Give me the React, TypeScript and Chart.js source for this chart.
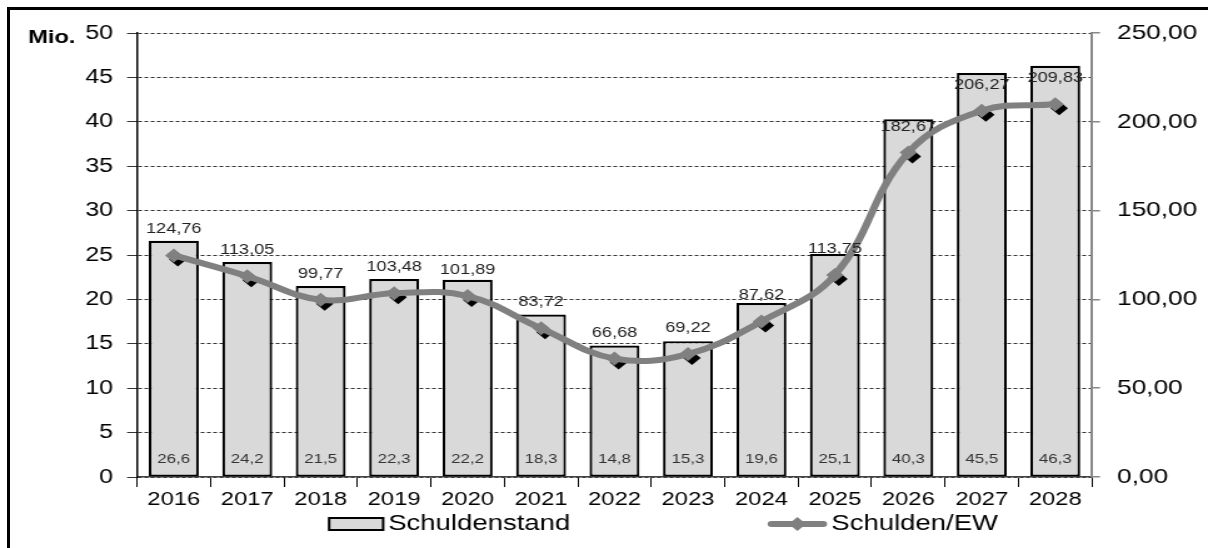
import React, { useEffect, useRef } from 'react';
import { Chart, registerables } from 'chart.js';

Chart.register(...registerables);

const years = ['2016', '2017', '2018', '2019', '2020', '2021', '2022', '2023', '2024', '2025', '2026', '2027', '2028'];
const schuldenstand = [26.6, 24.2, 21.5, 22.3, 22.2, 18.3, 14.8, 15.3, 19.6, 25.1, 40.3, 45.5, 46.3];
const schuldenProEW = [124.76, 113.05, 99.77, 103.48, 101.89, 83.72, 66.68, 69.22, 87.62, 113.75, 182.67, 206.27, 209.83];
const seriesLabels = ['Schuldenstand', 'Schulden/EW'];
const unitLabel = 'Mio.';

const FONT = "'Liberation Sans', Arial, sans-serif";
const BAR_FILL = '#d9d9d9';
const LINE_COLOR = '#808080';

// the reference is horizontally stretched: draw on a narrower canvas and widen it with CSS
const PAGE_W = 1208;
const PAGE_H = 548;
const SX = 1.25;
const CANVAS_W = Math.round(PAGE_W / SX);
const px = (v: number) => v / SX; // page x -> canvas x

const fmt = (v: number, d: number) => v.toFixed(d).replace('.', ',');

function diamond(ctx: CanvasRenderingContext2D, x: number, y: number, r: number) {
  ctx.beginPath();
  ctx.moveTo(x, y - r);
  ctx.lineTo(x + r, y);
  ctx.lineTo(x, y + r);
  ctx.lineTo(x - r, y);
  ctx.closePath();
  ctx.fill();
}

const decorPlugin = {
  id: 'decor',
  beforeDatasetDraw(chart: any, args: any) {
    if (args.index !== 1) return;
    const ctx = chart.ctx;
    ctx.save();
    ctx.fillStyle = '#000';
    args.meta.data.forEach((pt: any) => diamond(ctx, pt.x + px(4), pt.y + 4, 7));
    ctx.restore();
  },
  afterDatasetsDraw(chart: any) {
    const ctx = chart.ctx;
    const area = chart.chartArea;
    ctx.save();
    ctx.textAlign = 'center';
    ctx.textBaseline = 'middle';
    // bar value labels
    ctx.font = `13.5px ${FONT}`;
    ctx.fillStyle = '#333';
    chart.getDatasetMeta(0).data.forEach((bar: any, i: number) => {
      ctx.fillText(fmt(schuldenstand[i], 1), bar.x, area.bottom - 18);
    });
    // line value labels
    ctx.font = `14.5px ${FONT}`;
    ctx.fillStyle = '#222';
    chart.getDatasetMeta(1).data.forEach((pt: any, i: number) => {
      ctx.fillText(fmt(schuldenProEW[i], 2), pt.x, pt.y - 26);
    });
    ctx.restore();
  },
  afterDraw(chart: any) {
    const ctx = chart.ctx;
    const area = chart.chartArea;
    ctx.save();
    // unit label
    ctx.font = `bold 19px ${FONT}`;
    ctx.fillStyle = '#000';
    ctx.textAlign = 'left';
    ctx.textBaseline = 'middle';
    ctx.fillText(unitLabel, px(28), area.top + 5);
    // legend
    const ly = 524;
    ctx.fillStyle = BAR_FILL;
    ctx.strokeStyle = '#000';
    ctx.lineWidth = 2;
    ctx.fillRect(px(329), ly - 6, px(54), 12);
    ctx.strokeRect(px(329), ly - 6, px(54), 12);
    ctx.font = `22px ${FONT}`;
    ctx.fillStyle = '#000';
    ctx.fillText(seriesLabels[0], px(388), ly);
    ctx.strokeStyle = LINE_COLOR;
    ctx.lineWidth = 6;
    ctx.lineCap = 'round';
    ctx.beginPath();
    ctx.moveTo(px(771), ly);
    ctx.lineTo(px(823), ly);
    ctx.stroke();
    ctx.fillStyle = LINE_COLOR;
    diamond(ctx, px(797), ly, 7);
    ctx.fillStyle = '#000';
    ctx.fillText(seriesLabels[1], px(831), ly);
    ctx.restore();
  },
};

export default function App() {
  const ref = useRef<HTMLCanvasElement>(null);

  useEffect(() => {
    document.body.style.margin = '0';
    const canvas = ref.current;
    if (!canvas) return;
    const chart = new Chart(canvas, {
      type: 'bar',
      data: {
        labels: years,
        datasets: [
          {
            type: 'bar',
            label: seriesLabels[0],
            data: schuldenstand,
            backgroundColor: BAR_FILL,
            borderColor: '#000',
            borderWidth: 2.2,
            borderSkipped: false,
            categoryPercentage: 0.68,
            barPercentage: 1,
            yAxisID: 'y',
            order: 2,
          },
          {
            type: 'line',
            label: seriesLabels[1],
            data: schuldenProEW,
            borderColor: LINE_COLOR,
            borderWidth: 6,
            tension: 0.4,
            pointStyle: 'rectRot',
            pointRadius: 7,
            pointBackgroundColor: LINE_COLOR,
            pointBorderColor: LINE_COLOR,
            pointBorderWidth: 0,
            yAxisID: 'y1',
            order: 1,
          },
        ],
      },
      options: {
        responsive: false,
        animation: false,
        devicePixelRatio: 1,
        layout: { padding: { top: 33, left: 0, right: 0, bottom: 0 } },
        plugins: {
          legend: { display: false },
          tooltip: { enabled: false },
        },
        scales: {
          x: {
            grid: {
              display: true,
              drawOnChartArea: false,
              offset: true,
              color: '#000',
              tickLength: 10,
              lineWidth: 1,
            },
            border: { display: true, color: '#444', width: 1.5 },
            ticks: {
              color: '#000',
              font: { family: FONT, size: 19 },
              padding: 1,
              maxRotation: 0,
              autoSkip: false,
            },
            afterFit: (s: any) => { s.height = 71; },
          },
          y: {
            position: 'left',
            min: 0,
            max: 50,
            ticks: {
              stepSize: 5,
              color: '#000',
              font: { family: FONT, size: 20 },
              padding: px(14),
            },
            grid: {
              color: '#000',
              lineWidth: 0.8,
              tickLength: px(10),
              tickColor: '#000',
              tickBorderDash: [],
            },
            border: { display: true, color: '#000', width: 1.5, dash: [3, 2] },
            afterFit: (s: any) => { s.width = px(137); },
          },
          y1: {
            position: 'right',
            min: 0,
            max: 250,
            ticks: {
              stepSize: 50,
              color: '#000',
              font: { family: FONT, size: 21 },
              padding: px(17),
              callback: (v: any) => fmt(Number(v), 2),
            },
            grid: {
              drawOnChartArea: false,
              color: '#888',
              tickLength: px(8),
              lineWidth: 1.5,
            },
            border: { display: true, color: '#888', width: 2 },
            afterFit: (s: any) => { s.width = px(116); },
          },
        },
      },
      plugins: [decorPlugin],
    });
    return () => chart.destroy();
  }, []);

  return (
    <div style={{ position: 'relative', width: PAGE_W, height: PAGE_H, overflow: 'hidden', background: '#fff' }}>
      <canvas
        ref={ref}
        width={CANVAS_W}
        height={PAGE_H}
        style={{ position: 'absolute', left: 0, top: 0, width: PAGE_W, height: PAGE_H }}
      />
      <div
        style={{
          position: 'absolute',
          left: 7,
          top: 7,
          width: 1300,
          height: 600,
          borderTop: '3px solid #000',
          borderLeft: '3px solid #000',
          pointerEvents: 'none',
        }}
      />
    </div>
  );
}
